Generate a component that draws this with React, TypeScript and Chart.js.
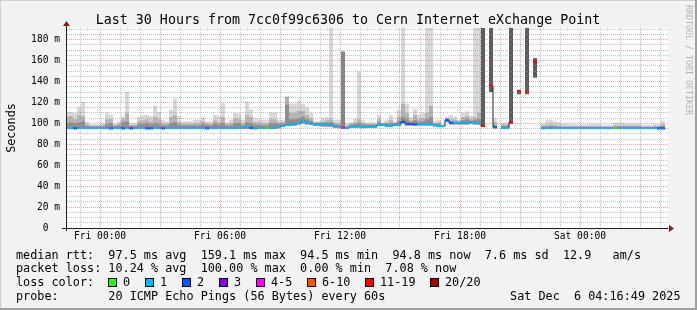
import React, { useEffect, useRef } from 'react';
import { Chart, registerables } from 'chart.js';

Chart.register(...registerables);

const W = 697;
const H = 310;

const TITLE = 'Last 30 Hours from 7cc0f99c6306 to Cern Internet eXchange Point';
const Y_TITLE = 'Seconds';
const WATERMARK = 'RRDTOOL / TOBI OETIKER';

// x: hours relative to Fri 00:00, one bin = 12 minutes
const X_MIN = -1.65;
const X_MAX = 28.4;
const FIRST_BIN_HOUR = -1.65;
const BIN_HOURS = 0.2;
const X_TICK_HOURS = [0, 6, 12, 18, 24];
const X_TICK_LABELS = ['Fri 00:00', 'Fri 06:00', 'Fri 12:00', 'Fri 18:00', 'Sat 00:00'];

const Y_MAX = 191.2;
const Y_TICK_VALUES = [0, 20, 40, 60, 80, 100, 120, 140, 160, 180];
const Y_TICK_LABELS = ['0  ', '20 m', '40 m', '60 m', '80 m', '100 m', '120 m', '140 m', '160 m', '180 m'];

// median rtt per bin (ms)
const MEDIAN: (number | null)[] = [
  95.5, 95.5, 95.2, 95.5, 95.5, 95.5, 95.5, 95.5, 95.5, 95.5,
  95.5, 95.2, 95.5, 95.5, 95.2, 95.5, 95.2, 95.5, 95.5, 95.5,
  95.2, 95.2, 95.5, 95.5, 95.2, 95.5, 95.5, 95.5, 95.5, 95.5,
  95.5, 95.5, 95.5, 95.5, 95.5, 95.2, 95.5, 95.5, 95.5, 95.5,
  95.5, 95.5, 95.5, 96, 96, 96.5, 95.5, 95.2, 95.5, 95.5,
  95.5, 95.5, 95.8, 96.5, 97.8, 98.8, 98.8, 99.5, 100.4, 102,
  100.5, 100, 99, 99, 98.5, 98.5, 98.2, 97, 96.5, 96,
  95.5, 97, 97, 97, 96.5, 97, 97, 97, 98.8, 98.8,
  97.8, 97.8, 98.8, 98.8, 101.5, 99.5, 99.5, 99, 99.5, 99.5,
  99, 99, 98.5, 97.5, 97.5, 103, 100.4, 100.4, 100.4, 100.5,
  100.5, 101, 100.5, 100, 97.5, null, 136, 96.3, null, 95.5,
  95.5, 101, null, 130.6, null, 130, null, 159, null, 95.2,
  95.5, 95.5, 95.5, 95.5, 95.5, 95.5, 95.5, 95.5, 95.5, 95.5,
  95.5, 95.5, 95.5, 95.5, 95.5, 95.5, 95.5, 95.5, 95.5, 95.5,
  95.5, 95.5, 95.5, 95.5, 95.5, 95.5, 95.5, 95.5, 95.2, 95.2,
];

// lost pings per bin (of 20)
const LOSS: number[] = [
  1, 1, 2, 1, 1, 1, 1, 1, 1, 1,
  1, 2, 1, 1, 2, 1, 2, 1, 1, 1,
  2, 2, 1, 1, 2, 1, 1, 1, 1, 1,
  1, 1, 1, 1, 1, 2, 1, 1, 1, 1,
  1, 1, 1, 1, 1, 1, 2, 1, 1, 1,
  0, 1, 1, 1, 1, 1, 1, 1, 1, 1,
  1, 1, 1, 1, 1, 1, 1, 1, 1, 4,
  1, 1, 1, 1, 1, 1, 1, 1, 1, 1,
  1, 1, 1, 1, 2, 2, 2, 2, 1, 1,
  1, 1, 1, 1, 1, 2, 2, 1, 1, 1,
  1, 1, 1, 1, 14, 20, 15, 2, 20, 1,
  1, 14, 20, 16, 20, 15, 20, 17, 20, 1,
  1, 1, 1, 1, 1, 1, 1, 1, 1, 1,
  1, 1, 1, 1, 1, 1, 1, 0, 1, 1,
  1, 1, 1, 1, 1, 1, 1, 1, 2, 2,
];

// smoke: lowest ping per bin
const SMOKE_MIN: (number | null)[] = [
  94.8, 94.8, 94.8, 94.8, 94.8, 94.8, 94.8, 94.8, 94.8, 94.8,
  94.8, 94.8, 94.8, 94.8, 94.8, 94.8, 94.8, 94.8, 94.8, 94.8,
  94.8, 94.8, 94.8, 94.8, 94.8, 94.8, 94.8, 94.8, 94.8, 94.8,
  94.8, 94.8, 94.8, 94.8, 94.8, 94.8, 94.8, 94.8, 94.8, 94.8,
  94.8, 94.8, 94.8, 94.8, 94.8, 94.8, 94.8, 94.8, 94.8, 94.8,
  94.8, 94.8, 95, 95.5, 96.5, 97.5, 97.5, 98, 99, 100,
  99, 98.5, 97.5, 97.5, 97, 97, 97, 96, 95.5, 95,
  94.8, 96, 96, 96, 95.5, 96, 96, 96, 97.5, 97.5,
  96.5, 96.5, 97.5, 97.5, 100, 98, 98, 98, 98, 98,
  98, 98, 97, 96.5, 96.5, 101.5, 99, 99, 99, 99,
  99, 99.5, 99, 99, 97, null, 130, 95.3, null, 94.8,
  94.8, 100, null, 128, null, 128, null, 144, null, 94.8,
  94.8, 94.8, 94.8, 94.8, 94.8, 94.8, 94.8, 94.8, 94.8, 94.8,
  94.8, 94.8, 94.8, 94.8, 94.8, 94.8, 94.8, 94.8, 94.8, 94.8,
  94.8, 94.8, 94.8, 94.8, 94.8, 94.8, 94.8, 94.8, 94.8, 94.8,
];

// smoke: highest ping per bin
const SMOKE_MAX: (number | null)[] = [
  110.8, 110.8, 110, 115.7, 120.5, 101, 99, 99, 99, 100,
  110.5, 108.3, 100, 102, 106.7, 130, 100, 100, 106, 108,
  108, 107, 117, 111, 103.5, 102, 113, 123.8, 107, 102,
  102, 102, 103.5, 103.5, 106, 102, 102, 108.3, 107, 119.5,
  101, 103.5, 110, 109.5, 103.5, 121, 113.5, 104.5, 104, 103.5,
  103, 110.5, 110.5, 103.5, 103.5, 125.5, 118.8, 118.8, 121.5, 119,
  115.7, 110, 102, 102, 105, 106, 200, 103.5, 103.5, 168.5,
  100, 101, 105, 149.7, 103, 101, 101, 101, 108.3, 101,
  103.5, 108.3, 102, 113, 200, 118.8, 106, 114, 108.3, 110,
  200, 200, 102, 103.5, 99, 106.5, 108.3, 106.5, 103.5, 110,
  111.5, 107.4, 200, 200, 200, null, 200, 105, null, 100.5,
  100.5, 200, null, 132, null, 200, null, 162, null, 100,
  103, 103.5, 102, 101, 99.5, 99.5, 99.5, 99, 99, 99,
  99, 99.5, 99.5, 99.5, 98.5, 98.5, 98.5, 100.5, 100.5, 100.5,
  100, 100, 100, 100, 98.5, 98.5, 98.5, 99.5, 99.5, 102.5,
];

// smoke: upper quartile-ish band per bin
const SMOKE_MID: (number | null)[] = [
  106, 107, 104, 108, 107, 99, 98, 98, 98, 98.5,
  104, 104, 98.5, 99.5, 104, 110, 98.5, 98.5, 102, 103,
  104, 102, 106, 104, 100, 99.5, 106, 108, 101, 99.5,
  99.5, 99.5, 100, 100, 102, 100, 99.5, 103, 101, 106,
  99, 100, 105, 104, 100, 108, 106, 101, 101, 100,
  100, 104, 104, 101, 101, 125.5, 110, 110, 112, 112,
  108, 105, 101, 101, 102, 103, 104, 100.5, 100, 168.5,
  98, 99.5, 101, 104, 100.5, 99.5, 99.5, 99.5, 104, 100,
  101, 103, 100.5, 106, 118.8, 110, 103, 108, 104, 105,
  110, 116.8, 100.5, 101, 98.5, 105, 104, 103.5, 102, 106,
  107, 104, 106, 110, 200, null, 200, 101, null, 99,
  99, 200, null, 132, null, 200, null, 162, null, 98,
  98.5, 99, 98.5, 98, 97.5, 97.5, 97.5, 97.5, 97.5, 97.5,
  97.5, 97.5, 97.5, 97.5, 97, 97, 97, 98, 98, 98,
  98, 98, 98, 98, 97, 97, 97, 97.5, 97.5, 99,
];

// smoke: dense band close to the median per bin
const SMOKE_LOW: (number | null)[] = [
  100, 101, 100, 101, 102, 97.5, 97, 97, 97, 97,
  99, 100, 97.5, 98, 101, 102, 97.5, 97.5, 99, 99.5,
  100, 99, 100, 99, 98, 98, 100, 101, 98.5, 98,
  98, 98, 98, 98, 99, 98.5, 98, 99.5, 98.5, 100,
  98, 98, 100, 100, 98, 101, 100, 98.5, 98.5, 98,
  98, 100, 100, 99, 99.5, 118, 104, 104, 105, 106,
  104, 102.5, 100.5, 100.5, 100.5, 100.5, 101, 99, 98.5, 168.5,
  97, 98.5, 99, 100, 99, 98.5, 98.5, 98.5, 101, 99.5,
  99.5, 100, 100, 102, 106, 104, 101.5, 103, 101.5, 102,
  104, 106, 99.5, 99.5, 98, 104.5, 102, 102, 101.5, 103,
  104, 102.5, 103, 104, 200, null, 200, 98, null, 97.5,
  97.5, 200, null, 132, null, 200, null, 162, null, 97,
  97, 97.5, 97, 97, 96.5, 96.5, 96.5, 96.5, 96.5, 96.5,
  96.5, 96.5, 96.5, 96.5, 96.5, 96.5, 96.5, 97, 97, 97,
  97, 97, 97, 97, 96.5, 96.5, 96.5, 96.5, 96.5, 97.5,
];

const LOSS_LABELS = ['0', '1', '2', '3', '4-5', '6-10', '11-19', '20/20'];
const LOSS_COLORS = ['#26ff00', '#00b8ff', '#0059ff', '#7e00ff', '#ff00ff', '#ff5500', '#ff0000', '#a10000'];

const STATS_RTT = 'median rtt:  97.5 ms avg  159.1 ms max  94.5 ms min  94.8 ms now  7.6 ms sd  12.9   am/s';
const STATS_LOSS = 'packet loss: 10.24 % avg  100.00 % max  0.00 % min  7.08 % now';
const LOSS_TITLE = 'loss color:';
const PROBE_LINE = 'probe:       20 ICMP Echo Pings (56 Bytes) every 60s';
const DATE_TEXT = 'Sat Dec  6 04:16:49 2025';

const MONO = '"DejaVu Sans Mono", "Liberation Mono", monospace';
const GRID = 'rgba(143,143,143,0.55)';
const MGRID = 'rgba(222,79,79,0.5)';

function lossIndex(n: number): number {
  if (n <= 3) return n;
  if (n <= 5) return 4;
  if (n <= 10) return 5;
  if (n <= 19) return 6;
  return 7;
}

function smokeColor(layer: number, loss: number): string {
  if (loss >= 11) return '#5c5c5c';
  if (loss >= 4) return '#858585';
  return ['#d8d8d8', '#b4b4b4', '#8e8e8e'][layer];
}

const HOURS = MEDIAN.map((_, k) => FIRST_BIN_HOUR + k * BIN_HOURS);

function smokeDataset(tops: (number | null)[], layer: number) {
  const data: any[] = [];
  const colors: string[] = [];
  tops.forEach((top, k) => {
    const lo = SMOKE_MIN[k];
    if (top == null || lo == null) return;
    data.push({ x: HOURS[k], y: [lo, top] });
    colors.push(smokeColor(layer, LOSS[k]));
  });
  return {
    type: 'bar' as const,
    data,
    backgroundColor: colors,
    borderWidth: 0,
    inflateAmount: 0,
    grouped: false,
    barPercentage: 1,
    categoryPercentage: 1,
    order: 10 - layer,
  };
}

function medianDataset() {
  const data: any[] = [];
  const colors: string[] = [];
  MEDIAN.forEach((m, k) => {
    if (m == null) return;
    data.push({ x: HOURS[k], y: [m - 1, m + 1] });
    colors.push(LOSS_COLORS[lossIndex(LOSS[k])]);
  });
  return {
    type: 'bar' as const,
    data,
    backgroundColor: colors,
    borderWidth: 0,
    inflateAmount: 0,
    grouped: false,
    barPercentage: 1,
    categoryPercentage: 1,
    order: 1,
  };
}

function medianLine() {
  return {
    type: 'line' as const,
    data: MEDIAN.map((m, k) => ({ x: HOURS[k], y: m })),
    borderColor: '#1e1e1e',
    borderWidth: 1,
    pointRadius: 0,
    stepped: 'middle' as const,
    spanGaps: false,
    order: 2,
  };
}

const rrdPlugin = {
  id: 'rrdFrame',
  beforeDraw(chart: any) {
    const { ctx, chartArea: a } = chart;
    ctx.save();
    ctx.fillStyle = '#f2f2f2';
    ctx.fillRect(0, 0, W, H);
    ctx.fillStyle = '#cfcfcf';
    ctx.fillRect(0, 0, W, 1);
    ctx.fillRect(0, 0, 1, H);
    ctx.fillStyle = '#9e9e9e';
    ctx.fillRect(W - 2, 0, 2, H);
    ctx.fillRect(0, H - 2, W, 2);
    ctx.fillStyle = '#ffffff';
    ctx.fillRect(a.left, a.top, a.right - a.left, a.bottom - a.top);
    ctx.restore();
  },
  afterDraw(chart: any) {
    const { ctx, chartArea: a } = chart;
    ctx.save();
    // axes
    ctx.fillStyle = '#1f1f1f';
    ctx.fillRect(a.left - 5, a.bottom, a.right - a.left + 5, 1);
    ctx.fillRect(a.left - 1, a.top - 3, 1, a.bottom - a.top + 6);
    ctx.fillStyle = '#801f1f';
    ctx.beginPath();
    ctx.moveTo(a.left - 0.5, a.top - 7);
    ctx.lineTo(a.left + 3, a.top - 2);
    ctx.lineTo(a.left - 4, a.top - 2);
    ctx.closePath();
    ctx.fill();
    ctx.beginPath();
    ctx.moveTo(a.right + 6, a.bottom + 0.5);
    ctx.lineTo(a.right + 1, a.bottom + 4);
    ctx.lineTo(a.right + 1, a.bottom - 3);
    ctx.closePath();
    ctx.fill();

    // title
    ctx.fillStyle = '#000000';
    ctx.font = `13.3px ${MONO}`;
    ctx.textAlign = 'center';
    ctx.textBaseline = 'alphabetic';
    ctx.fillText(TITLE, 348, 24);

    // y axis title
    ctx.save();
    ctx.font = `11.8px ${MONO}`;
    ctx.translate(15, 128);
    ctx.rotate(-Math.PI / 2);
    ctx.textAlign = 'center';
    ctx.fillText(Y_TITLE, 0, 0);
    ctx.restore();

    // watermark
    ctx.save();
    ctx.font = `8.3px ${MONO}`;
    ctx.fillStyle = '#b4b4b4';
    ctx.translate(685.5, 5);
    ctx.rotate(Math.PI / 2);
    ctx.textAlign = 'left';
    ctx.fillText(WATERMARK, 0, 0);
    ctx.restore();

    // footer
    ctx.font = `11.8px ${MONO}`;
    ctx.textAlign = 'left';
    ctx.fillStyle = '#000000';
    ctx.fillText(STATS_RTT, 16, 258.5);
    ctx.fillText(STATS_LOSS, 16, 272.3);
    ctx.fillText(LOSS_TITLE, 16, 286);
    let bx = 108;
    LOSS_LABELS.forEach((label, i) => {
      const x = Math.round(bx);
      ctx.fillStyle = LOSS_COLORS[i];
      ctx.fillRect(x, 278, 9, 9);
      ctx.strokeStyle = '#000000';
      ctx.lineWidth = 1;
      ctx.strokeRect(x + 0.5, 278.5, 8, 8);
      ctx.fillStyle = '#000000';
      ctx.fillText(label, x + 15, 286);
      bx = x + 15 + ctx.measureText(label).width + 14.9;
    });
    ctx.fillText(PROBE_LINE, 16, 300);
    ctx.textAlign = 'right';
    ctx.fillText(DATE_TEXT, 680.5, 300);
    ctx.restore();
  },
};

export default function App() {
  const ref = useRef<HTMLCanvasElement>(null);
  useEffect(() => {
    document.body.style.margin = '0';
    const canvas = ref.current;
    if (!canvas) return;
    const chart = new Chart(canvas, {
      type: 'bar',
      data: {
        datasets: [
          smokeDataset(SMOKE_MAX, 0),
          smokeDataset(SMOKE_MID, 1),
          smokeDataset(SMOKE_LOW, 2),
          medianLine(),
          medianDataset(),
        ] as any,
      },
      options: {
        animation: false,
        responsive: false,
        devicePixelRatio: 1,
        events: [],
        layout: { padding: { top: 28, right: 29, left: 0, bottom: 0 } },
        plugins: { legend: { display: false }, tooltip: { enabled: false }, title: { display: false } },
        scales: {
          x: {
            type: 'linear',
            min: X_MIN,
            max: X_MAX,
            offset: false,
            grid: {
              offset: false,
              drawTicks: false,
              z: 1,
              lineWidth: 1,
              color: (c: any) => (c.tick && c.tick.value % 3 === 0 ? MGRID : GRID),
            },
            border: { display: false, dash: [1, 1] },
            ticks: {
              stepSize: 1,
              includeBounds: false,
              autoSkip: false,
              maxRotation: 0,
              minRotation: 0,
              padding: 3,
              color: '#000000',
              font: { family: MONO, size: 9.6 },
              callback: (v: any) => {
                const i = X_TICK_HOURS.indexOf(Number(v));
                return i >= 0 ? X_TICK_LABELS[i] : '';
              },
            },
            afterFit: (s: any) => {
              s.height = 82;
            },
          },
          y: {
            type: 'linear',
            min: 0,
            max: Y_MAX,
            grid: {
              drawTicks: false,
              z: 1,
              lineWidth: 1,
              color: (c: any) => (c.tick && c.tick.value % 20 === 0 ? MGRID : GRID),
            },
            border: { display: false, dash: [1, 1] },
            ticks: {
              stepSize: 5,
              includeBounds: false,
              autoSkip: false,
              padding: 7,
              color: '#000000',
              font: { family: MONO, size: 9.6 },
              callback: (v: any) => {
                const i = Y_TICK_VALUES.indexOf(Number(v));
                return i >= 0 ? Y_TICK_LABELS[i] : '';
              },
            },
            afterFit: (s: any) => {
              s.width = 67;
            },
          },
        },
      } as any,
      plugins: [rrdPlugin],
    });
    return () => chart.destroy();
  }, []);
  return <canvas ref={ref} width={W} height={H} style={{ display: 'block', width: W, height: H }} />;
}
